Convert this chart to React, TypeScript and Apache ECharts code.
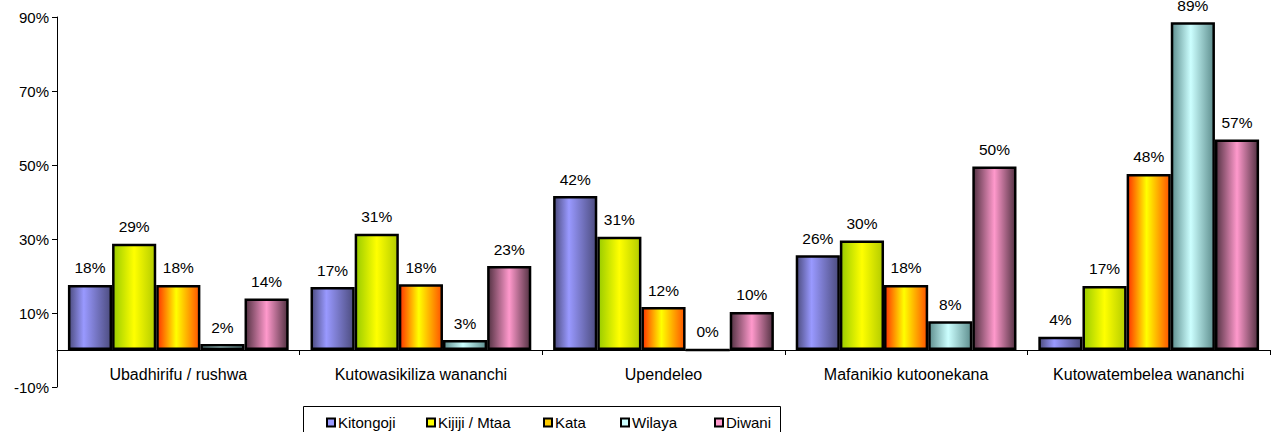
import React, { useEffect, useRef } from "react";
import * as echarts from "echarts";

const categories = [
  "Ubadhirifu / rushwa",
  "Kutowasikiliza wananchi",
  "Upendeleo",
  "Mafanikio kutoonekana",
  "Kutowatembelea wananchi",
];
const seriesNames = ["Kitongoji", "Kijiji / Mtaa", "Kata", "Wilaya", "Diwani"];
const kitongoji = [17.6, 17.0, 41.6, 25.6, 3.6];
const kijiji = [28.7, 31.4, 30.6, 29.6, 17.3];
const kata = [17.6, 17.8, 11.6, 17.6, 47.6];
const wilaya = [1.6, 2.7, 0, 7.8, 88.6];
const diwani = [13.9, 22.7, 10.3, 49.6, 56.9];
const yTicks = [-10, 10, 30, 50, 70, 90];

const FONT = "'Liberation Sans', Arial, sans-serif";

const grad = (stops: [number, string][]) => ({
  type: "linear",
  x: 0,
  y: 0,
  x2: 1,
  y2: 0,
  colorStops: stops.map(([offset, color]) => ({ offset, color })),
});

const fills = [
  grad([[0, "#4d4d80"], [0.35, "#9999ff"], [1, "#4d4d80"]]),
  grad([[0, "#99cc00"], [0.5, "#ffff00"], [1, "#b3cc00"]]),
  grad([[0, "#ff3300"], [0.45, "#ffff00"], [1, "#ff5500"]]),
  grad([[0, "#5f8f8f"], [0.45, "#ccffff"], [1, "#5f8f8f"]]),
  grad([[0, "#553344"], [0.5, "#ff99cc"], [1, "#553344"]]),
];
const legendColors = ["#9999ff", "#ffff00", "#ffcc00", "#ccffff", "#ff99cc"];
const legendX = [326, 426, 543, 620, 714];

export default function App() {
  const ref = useRef<HTMLDivElement>(null);
  useEffect(() => {
    if (!ref.current) return;
    const chart = echarts.init(ref.current, null, { renderer: "svg" });
    const data = [kitongoji, kijiji, kata, wilaya, diwani];
    chart.setOption({
      animation: false,
      textStyle: { fontFamily: FONT },
      grid: { left: 57, right: 2, top: 17, bottom: 45 },
      legend: seriesNames.map((n, i) => ({
        show: true,
        left: legendX[i],
        top: 415,
        padding: 0,
        itemWidth: 8,
        itemHeight: 8,
        itemGap: 0,
        selectedMode: false,
        textStyle: { fontFamily: FONT, fontSize: 15, color: "#000", padding: [0, 0, 0, -2] },
        data: [
          {
            name: n,
            icon: "rect",
            itemStyle: { color: legendColors[i], borderColor: "#000", borderWidth: 2 },
          },
        ],
      })),
      graphic: [
        {
          type: "rect",
          shape: { x: 303.5, y: 406.5, width: 477, height: 40 },
          style: { fill: "none", stroke: "#000", lineWidth: 1 },
        },
      ],
      xAxis: {
        type: "category",
        data: categories,
        axisLine: { onZero: true, lineStyle: { color: "#000", width: 1 } },
        axisTick: { show: true, length: 5, inside: false, lineStyle: { color: "#000" } },
        axisLabel: {
          fontSize: 16,
          color: "#000",
          margin: -21,
          interval: 0,
          hideOverlap: false,
          fontFamily: FONT,
        },
        splitLine: { show: false },
      },
      yAxis: {
        type: "value",
        min: yTicks[0],
        max: yTicks[yTicks.length - 1],
        interval: yTicks[1] - yTicks[0],
        axisLine: { show: true, lineStyle: { color: "#000", width: 1 } },
        axisTick: { show: true, length: 5, lineStyle: { color: "#000" } },
        axisLabel: {
          fontSize: 15,
          color: "#000",
          margin: 8,
          fontFamily: FONT,
          formatter: (v: number) => `${v}%`,
        },
        splitLine: { show: false },
      },
      series: seriesNames.map((n, i) => ({
        name: n,
        type: "bar",
        data: data[i],
        barGap: "0%",
        barCategoryGap: "9%",
        itemStyle: { color: fills[i], borderColor: "#000", borderWidth: 2.5 },
        label: {
          show: true,
          position: "top",
          distance: 9,
          fontSize: 15.5,
          color: "#000",
          fontFamily: FONT,
          formatter: (p: any) => `${Math.round(p.value)}%`,
        },
      })),
    });
    return () => chart.dispose();
  }, []);
  return (
    <div
      ref={ref}
      style={{ position: "fixed", left: 0, top: 0, width: 1272, height: 432, background: "#fff" }}
    />
  );
}
